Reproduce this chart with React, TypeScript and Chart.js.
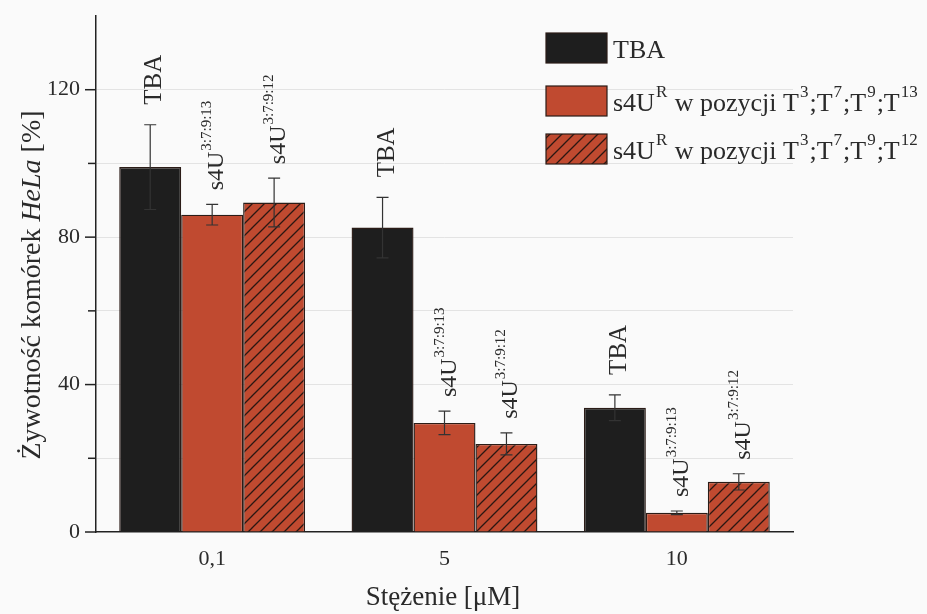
import React, { useEffect, useRef } from "react";
import { Chart, registerables } from "chart.js";

Chart.register(...registerables);

const categories = ["0,1", "5", "10"];
const seriesNames = ["TBA", "s4U^R w pozycji T^3;T^7;T^9;T^13", "s4U^R w pozycji T^3;T^7;T^9;T^12"];
const tbaValues = [99, 82.6, 33.7];
const tbaErrors = [11.5, 8.2, 3.5];
const s13Values = [86.1, 29.6, 5.2];
const s13Errors = [2.8, 3.2, 0.5];
const s12Values = [89.4, 23.9, 13.6];
const s12Errors = [6.6, 3.0, 2.2];
const barLabelMain = ["TBA", "s4U", "s4U"];
const barLabelSup = ["", "3:7:9:13", "3:7:9:12"];
const yTicks = [0, 20, 40, 60, 80, 100, 120, 140];
const yTitleParts = [
  { text: "Żywotność komórek ", italic: false },
  { text: "HeLa", italic: true },
  { text: " [%]", italic: false },
];
const xTitle = "Stężenie [μM]";

const FONT = "'Liberation Serif', 'Times New Roman', serif";
const TEXT = "#2a2a2a";
const BLACK = "#1e1e1e";
const RED = "#c04a30";
const EDGE = "#2b1c17";

function makeHatch(): CanvasPattern | string {
  const c = document.createElement("canvas");
  const s = 12;
  c.width = s;
  c.height = s;
  const g = c.getContext("2d");
  if (!g) return RED;
  g.fillStyle = RED;
  g.fillRect(0, 0, s, s);
  g.strokeStyle = "#2a1712";
  g.lineWidth = 1.3;
  g.beginPath();
  g.moveTo(-2, s + 2);
  g.lineTo(s + 2, -2);
  g.moveTo(-2, 2);
  g.lineTo(2, -2);
  g.moveTo(s - 2, s + 2);
  g.lineTo(s + 2, s - 2);
  g.stroke();
  const p = g.createPattern(c, "repeat");
  return p || RED;
}

function parseSup(label: string) {
  const parts: { text: string; sup: boolean }[] = [];
  const re = /\^([^\s;]+)/g;
  let last = 0;
  let m: RegExpExecArray | null;
  while ((m = re.exec(label)) !== null) {
    if (m.index > last) parts.push({ text: label.slice(last, m.index), sup: false });
    parts.push({ text: m[1], sup: true });
    last = m.index + m[0].length;
  }
  if (last < label.length) parts.push({ text: label.slice(last), sup: false });
  return parts;
}

export default function App() {
  const ref = useRef<HTMLCanvasElement | null>(null);

  useEffect(() => {
    document.body.style.margin = "0";
    const canvas = ref.current;
    if (!canvas) return;
    const hatch = makeHatch();
    const errors = [tbaErrors, s13Errors, s12Errors];
    const fills: any[] = [BLACK, RED, hatch];

    const plugin = {
      id: "custom",
      beforeDraw(chart: any) {
        const c = chart.ctx;
        c.save();
        c.fillStyle = "#fafafa";
        c.fillRect(0, 0, chart.width, chart.height);
        c.restore();
      },
      afterDatasetsDraw(chart: any) {
        const c = chart.ctx;
        const ys = chart.scales.y;
        chart.data.datasets.forEach((ds: any, di: number) => {
          const meta = chart.getDatasetMeta(di);
          meta.data.forEach((el: any, i: number) => {
            const v = ds.data[i];
            const e = errors[di][i];
            const top = ys.getPixelForValue(v + e);
            const bot = ys.getPixelForValue(v - e);
            c.save();
            c.strokeStyle = "#333";
            c.lineWidth = 1.2;
            c.beginPath();
            c.moveTo(el.x, top);
            c.lineTo(el.x, bot);
            c.moveTo(el.x - 6, top);
            c.lineTo(el.x + 6, top);
            c.moveTo(el.x - 6, bot);
            c.lineTo(el.x + 6, bot);
            c.stroke();
            c.restore();

            const gap = di === 0 ? 20 : 14;
            c.save();
            c.translate(el.x + 11, top - gap);
            c.rotate(-Math.PI / 2);
            c.fillStyle = TEXT;
            c.textAlign = "left";
            c.textBaseline = "alphabetic";
            c.font = (di === 0 ? "25px " : "24px ") + FONT;
            c.fillText(barLabelMain[di], 0, 0);
            const w = c.measureText(barLabelMain[di]).width;
            if (barLabelSup[di]) {
              c.font = "15px " + FONT;
              c.fillText(barLabelSup[di], w + 1, -12);
            }
            c.restore();
          });
        });
      },
      afterDraw(chart: any) {
        const c = chart.ctx;
        const ys = chart.scales.y;
        const area = chart.chartArea;
        c.save();
        c.strokeStyle = "#222";
        c.lineWidth = 1.5;
        yTicks.forEach((t) => {
          if (t === 140) return;
          const py = ys.getPixelForValue(t);
          const len = t % 40 === 0 ? 11 : 8;
          c.beginPath();
          c.moveTo(area.left - len, py);
          c.lineTo(area.left, py);
          c.stroke();
        });
        c.restore();

        // y title
        c.save();
        c.translate(40, 285);
        c.rotate(-Math.PI / 2);
        c.fillStyle = TEXT;
        c.textBaseline = "alphabetic";
        let total = 0;
        yTitleParts.forEach((p) => {
          c.font = (p.italic ? "italic " : "") + "28px " + FONT;
          total += c.measureText(p.text).width;
        });
        let x = -total / 2;
        yTitleParts.forEach((p) => {
          c.font = (p.italic ? "italic " : "") + "28px " + FONT;
          c.textAlign = "left";
          c.fillText(p.text, x, 0);
          x += c.measureText(p.text).width;
        });
        c.restore();

        // x title
        c.save();
        c.fillStyle = TEXT;
        c.font = "27px " + FONT;
        c.textAlign = "center";
        c.textBaseline = "alphabetic";
        c.fillText(xTitle, 443, 605);
        c.restore();

        // legend
        const boxX = 546;
        const boxW = 61;
        const boxH = 30;
        const boxTops = [33, 86, 134];
        chart.data.datasets.forEach((ds: any, di: number) => {
          const by = boxTops[di];
          c.save();
          c.fillStyle = fills[di];
          c.fillRect(boxX, by, boxW, boxH);
          c.strokeStyle = EDGE;
          c.lineWidth = 1.2;
          c.strokeRect(boxX, by, boxW, boxH);
          c.fillStyle = TEXT;
          c.textAlign = "left";
          c.textBaseline = "alphabetic";
          let tx = 613;
          const base = by + boxH - 5;
          parseSup(ds.label).forEach((p) => {
            if (p.sup) {
              c.font = "17px " + FONT;
              c.fillText(p.text, tx + 1, base - 14);
              tx += c.measureText(p.text).width + 2;
            } else {
              c.font = "26px " + FONT;
              c.fillText(p.text, tx, base);
              tx += c.measureText(p.text).width;
            }
          });
          c.restore();
        });
      },
    };

    const chart = new Chart(canvas, {
      type: "bar",
      data: {
        labels: categories,
        datasets: [
          { label: seriesNames[0], data: tbaValues, backgroundColor: BLACK, borderColor: EDGE, borderWidth: 1.4 },
          { label: seriesNames[1], data: s13Values, backgroundColor: RED, borderColor: EDGE, borderWidth: 1.4 },
          { label: seriesNames[2], data: s12Values, backgroundColor: hatch as any, borderColor: EDGE, borderWidth: 1.4 },
        ],
      },
      options: {
        responsive: false,
        animation: false,
        maintainAspectRatio: false,
        layout: { padding: { top: 16, right: 134, left: 0, bottom: 0 } },
        datasets: { bar: { categoryPercentage: 0.8, barPercentage: 1.0 } },
        plugins: { legend: { display: false }, tooltip: { enabled: false } },
        scales: {
          x: {
            grid: { display: false, drawTicks: false },
            border: { display: true, color: "#222", width: 1.5 },
            ticks: { color: TEXT, font: { family: FONT, size: 22 }, padding: 14 },
            afterFit: (s: any) => {
              s.height = 82;
              s.paddingLeft = 0;
              s.paddingRight = 0;
            },
          },
          y: {
            min: 0,
            max: 140,
            afterBuildTicks: (s: any) => {
              s.ticks = yTicks.map((v) => ({ value: v }));
            },
            grid: {
              drawTicks: false,
              color: (ctx: any) => {
                const v = ctx.tick ? ctx.tick.value : 0;
                return v === 0 || v === 140 ? "rgba(0,0,0,0)" : "#e3e3e3";
              },
              lineWidth: 1,
            },
            border: { display: true, color: "#222", width: 1.5 },
            ticks: {
              color: TEXT,
              font: { family: FONT, size: 22 },
              padding: 16,
              callback: (v: any) => (Number(v) % 40 === 0 && Number(v) !== 140 ? String(v) : ""),
            },
            afterFit: (s: any) => {
              s.width = 96;
              s.paddingTop = 0;
              s.paddingBottom = 0;
            },
          },
        },
      },
      plugins: [plugin],
    });
    return () => chart.destroy();
  }, []);

  return (
    <div style={{ width: 927, height: 614 }}>
      <canvas ref={ref} width={927} height={614} style={{ display: "block" }} />
    </div>
  );
}
